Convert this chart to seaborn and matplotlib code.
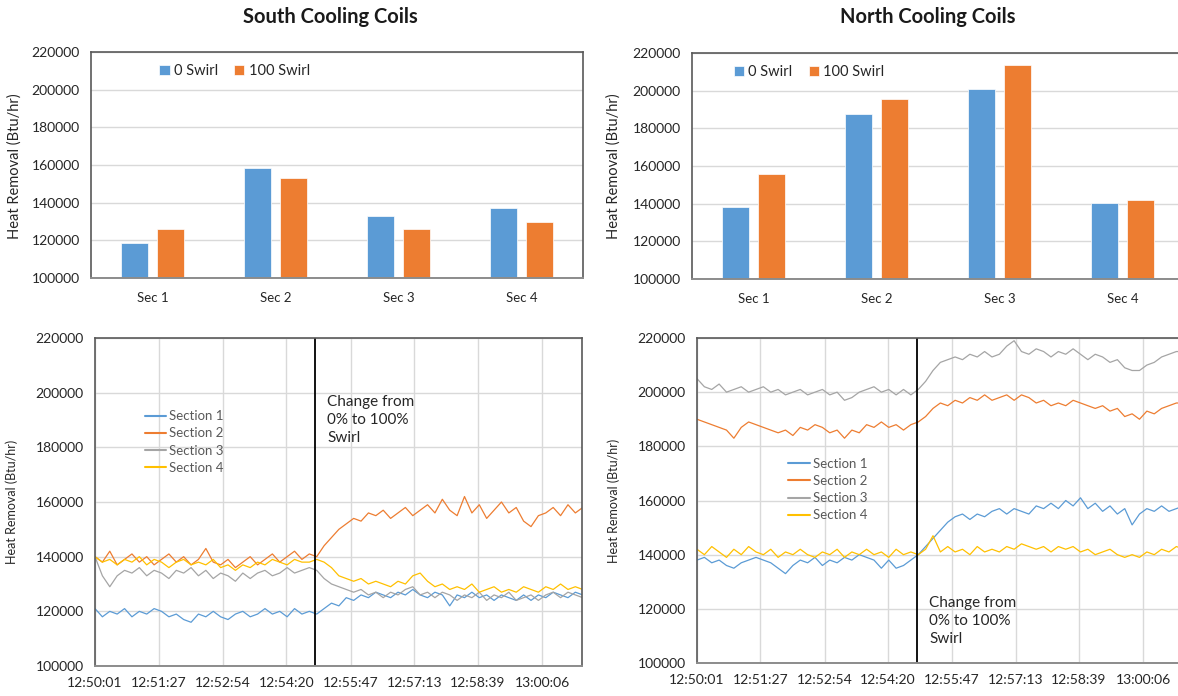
import numpy as np
import pandas as pd
import matplotlib
matplotlib.use("Agg")
import matplotlib.pyplot as plt
import seaborn as sns
from matplotlib.ticker import FuncFormatter

# ---------------- data ----------------
sections = ["Sec 1", "Sec 2", "Sec 3", "Sec 4"]
swirl_labels = ["0 Swirl", "100 Swirl"]
south_0 = [118500, 158500, 133000, 137000]
south_100 = [126000, 153000, 126000, 129500]
north_0 = [138000, 187500, 201000, 140500]
north_100 = [156000, 195500, 213500, 142000]

series_names = ["Section 1", "Section 2", "Section 3", "Section 4"]
time_s = np.arange(0, 661, 10)  # seconds after 12:50:01
time_tick_s = [0, 86, 173, 259, 346, 432, 518, 605]
time_tick_labels = ["12:50:01", "12:51:27", "12:52:54", "12:54:20",
                    "12:55:47", "12:57:13", "12:58:39", "13:00:06"]
swirl_change_s = 298

# heat removal in thousands of Btu/hr
south_s1 = [121, 118, 120, 119, 121, 118, 120, 119, 121, 120, 118, 119, 117, 116, 119, 118, 120, 118, 117, 119,
            120, 118, 119, 121, 119, 120, 118, 121, 119, 120,
            119, 121, 123, 122, 125, 124, 126, 125, 127, 126, 125, 127, 126, 128, 126, 125, 127, 126, 122, 126,
            125, 127, 125, 126, 124, 126, 125, 124, 126, 124, 126, 125, 127, 126, 125, 127, 126]
south_s2 = [140, 138, 142, 137, 139, 141, 138, 140, 137, 139, 141, 138, 140, 137, 139, 143, 138, 137, 139, 136,
            138, 140, 137, 139, 141, 138, 140, 142, 139, 141,
            140, 144, 147, 150, 152, 154, 153, 156, 155, 157, 154, 156, 158, 155, 157, 159, 156, 161, 157, 155,
            162, 156, 159, 154, 157, 160, 156, 158, 153, 151, 155, 156, 158, 155, 159, 156, 158]
south_s3 = [140, 133, 129, 133, 135, 134, 136, 133, 135, 134, 132, 135, 134, 136, 133, 135, 132, 134, 133, 131,
            134, 132, 134, 135, 133, 134, 136, 134, 135, 136,
            135, 132, 130, 129, 128, 127, 128, 126, 127, 125, 127, 126, 128, 129, 126, 127, 125, 127, 126, 124,
            126, 125, 127, 124, 126, 125, 127, 124, 125, 126, 124, 126, 127, 125, 127, 126, 125]
south_s4 = [140, 138, 139, 137, 139, 138, 140, 137, 139, 138, 136, 138, 139, 137, 138, 137, 139, 136, 137, 135,
            137, 136, 138, 137, 139, 138, 137, 139, 138, 138,
            139, 138, 136, 133, 132, 131, 132, 130, 131, 130, 129, 131, 130, 133, 134, 131, 129, 130, 128, 129,
            128, 130, 127, 128, 129, 127, 128, 127, 129, 128, 127, 129, 128, 130, 128, 129, 128]

north_s1 = [138, 139, 137, 138, 136, 135, 137, 138, 139, 138, 137, 135, 133, 136, 138, 137, 139, 136, 138, 137,
            139, 138, 140, 139, 138, 135, 138, 135, 136, 138,
            140, 143, 146, 149, 152, 154, 155, 153, 155, 154, 156, 157, 155, 157, 156, 155, 158, 157, 159, 157,
            160, 158, 161, 157, 159, 156, 158, 155, 157, 151, 155, 157, 156, 158, 156, 157, 158]
north_s2 = [190, 189, 188, 187, 186, 183, 187, 189, 188, 187, 186, 185, 186, 184, 187, 186, 188, 187, 185, 186,
            183, 186, 185, 188, 187, 189, 187, 188, 186, 188,
            189, 191, 194, 196, 195, 197, 196, 198, 197, 199, 197, 198, 199, 197, 199, 198, 196, 197, 195, 196,
            195, 197, 196, 195, 194, 195, 193, 194, 191, 192, 190, 193, 192, 194, 195, 196, 196]
north_s3 = [205, 202, 201, 203, 200, 201, 202, 200, 201, 202, 200, 201, 199, 200, 201, 199, 200, 201, 199, 200,
            197, 198, 200, 201, 202, 200, 201, 199, 201, 199,
            201, 204, 208, 211, 212, 213, 212, 214, 213, 215, 213, 214, 217, 219, 215, 214, 216, 215, 213, 215,
            214, 216, 214, 212, 214, 213, 211, 212, 209, 208, 208, 210, 211, 213, 214, 215, 215]
north_s4 = [142, 140, 143, 141, 139, 142, 140, 143, 141, 140, 142, 139, 141, 140, 142, 140, 139, 141, 140, 142,
            139, 141, 140, 142, 140, 141, 139, 142, 140, 141,
            140, 142, 147, 141, 143, 141, 142, 140, 143, 141, 142, 141, 143, 142, 144, 143, 142, 143, 141, 143,
            142, 143, 141, 142, 140, 141, 142, 140, 139, 140, 139, 141, 140, 142, 141, 143, 142]

BLUE, ORANGE, GRAY, YELLOW = "#5B9BD5", "#ED7D31", "#A5A5A5", "#FFC000"
line_palette = [BLUE, ORANGE, GRAY, YELLOW]

# ---------------- style ----------------
sns.set_theme(style="white")
plt.rcParams["font.family"] = ["Lato", "DejaVu Sans"]
TXT = "#262626"

W, H = 1178, 696
fig = plt.figure(figsize=(W / 100, H / 100), dpi=100)


def fbox(l, t, r, b):
    return [l / W, 1 - b / H, (r - l) / W, (b - t) / H]


def style_frame(ax):
    for s in ["top", "right", "left"]:
        ax.spines[s].set_color("#595959")
        ax.spines[s].set_linewidth(1.2)
    ax.spines["bottom"].set_color("#8C8C8C")
    ax.spines["bottom"].set_linewidth(1.4)


def bar_panel(box, vals0, vals100, leg_x, title, title_x, ylab_x):
    ax = fig.add_axes(fbox(*box))
    df = pd.DataFrame({"Section": sections * 2,
                       "Swirl": [swirl_labels[0]] * 4 + [swirl_labels[1]] * 4,
                       "Heat": vals0 + vals100})
    sns.barplot(data=df, x="Section", y="Heat", hue="Swirl", palette=[BLUE, ORANGE],
                width=0.578, gap=0.23, saturation=1, edgecolor="white", linewidth=0.5, ax=ax)
    ax.set_ylim(100000, 220000)
    ax.set_yticks(np.arange(100000, 220001, 20000))
    ax.yaxis.set_major_formatter(FuncFormatter(lambda v, p: f"{v:.0f}"))
    ax.yaxis.grid(True, color="#D9D9D9", lw=1)
    ax.set_axisbelow(True)
    ax.set_xlabel("")
    ax.set_ylabel("")
    ax.tick_params(axis="y", length=0, labelsize=10, labelcolor=TXT, pad=8)
    ax.tick_params(axis="x", length=0, labelsize=9.5, labelcolor=TXT, pad=10)
    style_frame(ax)
    ax.legend(loc="center left", bbox_to_anchor=(leg_x, 0.915), ncol=2, frameon=False,
              handlelength=0.7, handleheight=0.7, handletextpad=0.3, columnspacing=1.1,
              fontsize=10.5, borderpad=0, borderaxespad=0, labelcolor=TXT)
    fig.text(title_x / W, 1 - 17 / H, title, ha="center", va="center",
             fontsize=14.5, fontweight="bold", color="#1a1a1a")
    fig.text(ylab_x / W, 1 - 166 / H, "Heat Removal (Btu/hr)", rotation=90,
             ha="center", va="center", fontsize=10.5, color=TXT)
    return ax


def line_panel(box, series, leg_anchor, note_xy, ylab_x):
    ax = fig.add_axes(fbox(*box))
    df = pd.DataFrame({"t": np.tile(time_s, 4),
                       "v": np.concatenate(series),
                       "series": np.repeat(series_names, len(time_s))})
    sns.lineplot(data=df, x="t", y="v", hue="series", palette=line_palette, lw=0.9, ax=ax)
    ax.set_xlim(0, 659)
    ax.set_ylim(100, 220)
    ax.set_yticks(np.arange(100, 221, 20))
    ax.yaxis.set_major_formatter(FuncFormatter(lambda v, p: f"{v * 1000:.0f}"))
    ax.set_xticks(time_tick_s)
    ax.set_xticklabels(time_tick_labels)
    ax.grid(True, color="#D9D9D9", lw=1)
    ax.set_axisbelow(True)
    ax.set_xlabel("")
    ax.set_ylabel("")
    ax.tick_params(axis="y", length=0, labelsize=10, labelcolor=TXT, pad=8)
    ax.tick_params(axis="x", length=0, labelsize=10, labelcolor=TXT, pad=8)
    style_frame(ax)
    ax.axvline(swirl_change_s, color="black", lw=1.3)
    ax.text(note_xy[0], note_xy[1], "Change from\n0% to 100%\nSwirl", ha="left", va="center",
            fontsize=11, linespacing=1.35, color=TXT)
    leg = ax.legend(loc="upper left", bbox_to_anchor=leg_anchor, frameon=False, fontsize=9.5,
                    handlelength=1.6, handletextpad=0.25, labelspacing=0.4,
                    borderpad=0, borderaxespad=0, labelcolor="#595959")
    for h in leg.get_lines():
        h.set_linewidth(1.5)
    fig.text(ylab_x / W, 1 - ((box[1] + box[3]) / 2) / H, "Heat Removal (Btu/hr)", rotation=90,
             ha="center", va="center", fontsize=9, color=TXT)
    return ax


bar_panel((91, 52, 583, 278), south_0, south_100, 0.139, "South Cooling Coils", 330, 15)
bar_panel((692, 53, 1184, 279), north_0, north_100, 0.085, "North Cooling Coils", 928, 614)

line_panel((95, 338, 582, 666), [south_s1, south_s2, south_s3, south_s4],
           (67 / 659, 0.78), (314, 190.1), 12)
line_panel((697, 338, 1183, 663), [north_s1, north_s2, north_s3, north_s4],
           (124 / 659, 0.632), (315, 115.6), 614)

fig.savefig("out.png", dpi=100)
